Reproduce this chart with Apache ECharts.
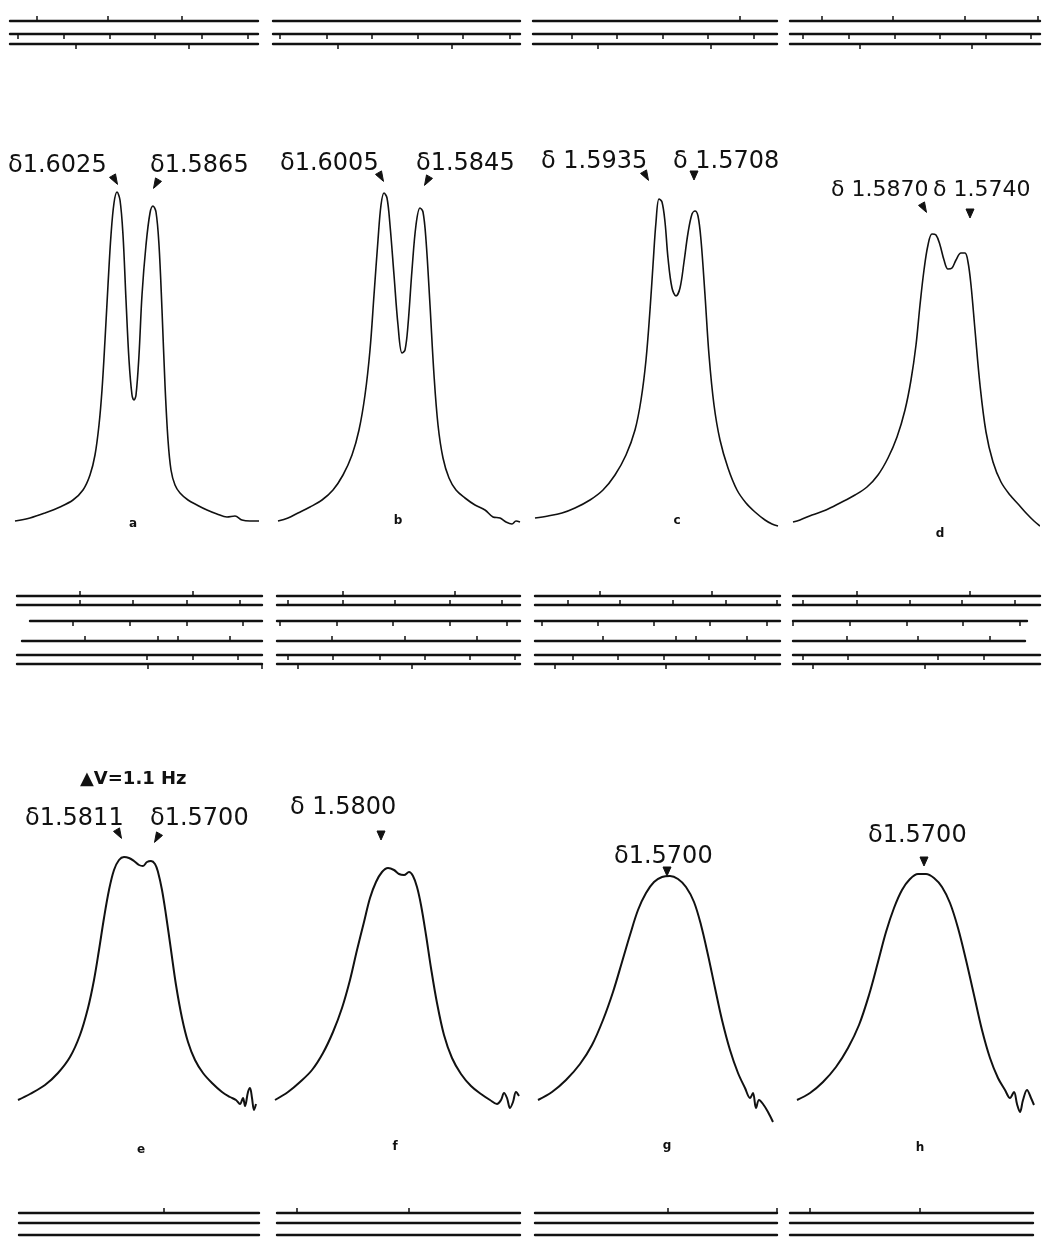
<!DOCTYPE html>
<html><head><meta charset="utf-8">
<script src="https://cdn.jsdelivr.net/npm/echarts@6/dist/echarts.min.js"></script>
<style>html,body{margin:0;padding:0;background:#fff}#c{width:1045px;height:1245px}</style>
</head><body><div id="c"></div>
<script>
// ---- spectra: [position along trace, signal height] ----
const specA = [[0,9],[15,12],[30,17],[45,23],[58,30],[68,40],[75,55],[80,75],[84,105],[87,140],[90,190],[93,245],[96,295],[99,327],[102,338],[105,330],[108,295],[111,230],[114,170],[117,135],[119,130],[121,135],[124,175],[127,235],[131,285],[135,317],[138,324],[141,318],[144,285],[147,220],[150,145],[153,90],[156,60],[160,45],[165,37],[173,30],[182,25],[192,20],[202,16],[212,13],[220,14],[227,10],[235,9],[244,9]];
const specB = [[0,9],[10,12],[20,17],[32,23],[44,30],[55,40],[65,55],[74,75],[81,100],[87,135],[92,180],[96,235],[100,290],[103,325],[106,337],[109,332],[112,305],[116,255],[120,205],[124,177],[127,180],[130,205],[134,260],[138,305],[142,322],[145,318],[148,290],[152,225],[156,155],[160,105],[165,72],[171,52],[178,40],[187,32],[197,25],[207,20],[215,13],[222,12],[228,8],[234,6],[238,9],[242,8]];
const specC = [[0,12],[13,14],[27,17],[40,22],[55,30],[68,40],[80,55],[91,75],[100,100],[106,130],[111,170],[115,220],[118,265],[121,308],[124,331],[127,328],[130,308],[133,272],[137,242],[141,234],[145,242],[149,268],[153,297],[157,316],[160,319],[163,314],[166,290],[170,235],[174,175],[179,125],[185,90],[193,62],[202,40],[211,27],[220,18],[230,10],[237,6],[243,4]];
const specD = [[0,8],[7,10],[19,15],[33,20],[47,27],[62,35],[74,43],[85,55],[95,72],[104,93],[112,120],[118,150],[123,185],[127,225],[131,260],[135,285],[139,296],[143,295],[147,285],[151,270],[155,261],[159,262],[163,270],[168,277],[172,277],[175,268],[178,245],[182,200],[187,145],[193,98],[200,68],[208,48],[217,35],[226,25],[234,16],[241,9],[247,4]];
const specE = [[0,30],[12,36],[27,45],[40,57],[52,73],[62,95],[70,122],[76,150],[81,180],[86,212],[91,240],[96,260],[101,270],[106,273],[111,272],[116,269],[121,265],[125,264],[129,268],[133,269],[137,266],[140,258],[144,240],[148,215],[153,180],[158,145],[164,112],[170,88],[177,70],[185,57],[194,47],[204,38],[212,33],[218,30],[222,26],[225,32],[227,24],[230,38],[232,42],[234,32],[236,20],[238,26]];
const specF = [[0,30],[13,38],[25,48],[37,60],[48,77],[58,98],[67,122],[75,150],[82,180],[89,208],[95,232],[101,248],[107,258],[113,262],[119,260],[124,256],[129,255],[134,258],[138,254],[142,243],[146,225],[151,195],[156,162],[162,127],[169,95],[177,72],[186,56],[196,44],[206,36],[215,30],[222,26],[226,30],[229,37],[232,32],[235,22],[238,28],[241,38],[244,34]];
const specG = [[0,30],[14,38],[28,50],[42,66],[54,85],[65,110],[75,138],[84,168],[92,195],[100,220],[108,237],[116,248],[124,253],[132,254],[140,251],[148,243],[156,228],[163,205],[170,175],[177,142],[184,110],[192,80],[200,57],[207,42],[212,32],[215,37],[218,22],[221,30],[225,26],[230,18],[235,8]];
const specH = [[2,30],[15,37],[28,48],[41,63],[53,82],[64,105],[74,135],[83,168],[91,198],[99,222],[107,240],[115,251],[123,256],[131,256],[139,252],[147,243],[155,227],[163,202],[171,170],[179,135],[187,100],[195,72],[203,52],[210,40],[215,32],[219,38],[222,26],[225,18],[228,30],[232,40],[236,32],[239,25]];

const panelLetters = ['a','b','c','d','e','f','g','h'];
const shiftLabels = [
  ['δ1.6025','δ1.5865'], ['δ1.6005','δ1.5845'], ['δ 1.5935','δ 1.5708'], ['δ 1.5870','δ 1.5740'],
  ['δ1.5811','δ1.5700'], ['δ 1.5800'], ['δ1.5700'], ['δ1.5700']
];
const noteText = '▲V=1.1 Hz';

// ---- recorder-paper scale ticks (positions along each scale line) ----
const topTicks = [
  [[27,98,172],[8,54,100,145,192,238],[66,179]],
  [[],[7,54,99,145,190,237],[65,179]],
  [[207],[39,84,130,175,221],[65,178]],
  [[32,103,175,248],[13,59,105,150,196,241],[70,182]]
];
const midTicks = [
  [[63,176],[63,116,170,223],[56,113,170,226],[68,141,161,213],[130,176,221],[131,245]],
  [[66,178],[11,66,118,173,225],[3,60,116,173,230],[55,128,200],[11,56,103,148,193,238],[21,135]],
  [[65,177],[33,85,138,191,242],[7,63,119,175,232],[68,141,161,212],[38,83,129,174,220],[20,131]],
  [[64,177],[10,64,117,169,222],[0,57,114,170,227],[54,125,197],[10,55,145,191],[20,132]]
];
const botTicks = [
  [[145],[],[]],
  [[20,132],[],[]],
  [[133,242],[],[]],
  [[20,130],[],[]]
];

// ---- layout ----
const INK = '#111';
const FONT = '"DejaVu Sans", sans-serif';
const spectra = [specA,specB,specC,specD,specE,specF,specG,specH];
const panelLeft = [15,278,535,793,18,275,538,795];
const grids = [], xAxes = [], yAxes = [], series = [];

spectra.forEach((d,i)=>{
  const top = i<4 ? 180 : 850;
  const h = i<4 ? 350 : 280;
  grids.push({left:panelLeft[i], top:top, width:245, height:h});
  xAxes.push({gridIndex:i, type:'value', min:0, max:245, show:false});
  yAxes.push({gridIndex:i, type:'value', min:0, max:h, show:false});
  series.push({type:'line', xAxisIndex:i, yAxisIndex:i, data:d, showSymbol:false, smooth:0.35,
    clip:false, lineStyle:{color:INK, width: i<4 ? 1.6 : 2}, silent:true});
});

function addScale(region, ys, cols, ticks) {
  cols.forEach((c,ci)=>{
    ys.forEach((yy,li)=>{
      const gi = grids.length;
      const w = (c.w && c.w[li]) || c.width;
      const l = (c.l && c.l[li]) != null ? c.l[li] : c.left;
      grids.push({left:l, top:yy, width:w, height:4});
      const tk = ticks[ci][li].map(v=>v-(l-c.left));
      xAxes.push({gridIndex:gi, type:'value', min:0, max:w, position:'top',
        axisLine:{show:true, onZero:false, lineStyle:{color:INK, width:2.4}},
        axisTick:{show:tk.length>0, customValues:tk, length:5, inside:region.dirs[li]==='down',
          lineStyle:{color:INK, width:1.5}},
        axisLabel:{show:false}, splitLine:{show:false}});
      yAxes.push({gridIndex:gi, type:'value', min:0, max:1, show:false});
    });
  });
}
addScale({dirs:['up','down','down']}, [21,34,44], [
  {left:10,width:248},{left:273,width:247},{left:533,width:244},{left:790,width:250}], topTicks);
addScale({dirs:['up','up','down','up','down','down']}, [596,605,621,641,655,664], [
  {left:17,width:245,l:[17,17,30,22,17,17],w:[245,245,232,240,245,245]},
  {left:277,width:243},{left:535,width:245},
  {left:793,width:247,w:[247,247,234,232,247,247]}], midTicks);
addScale({dirs:['up','up','up']}, [1213,1223,1235], [
  {left:19,width:240},{left:277,width:243},{left:535,width:242},{left:790,width:243}], botTicks);

// ---- text and arrow annotations ----
const graphic = [];
function txt(s,x,y,size,weight,align){
  graphic.push({type:'text', x:x, y:y, silent:true,
    style:{text:s, fill:INK, font:(weight||'normal')+' '+size+'px '+FONT, textAlign:align||'left', textVerticalAlign:'middle'}});
}
const arrowShapes = {
  d:  [[-4,-4],[4,-4],[0,5]],
  dr: [[0.5,-6.1],[-5.5,-2.6],[2.5,4.4]],
  dl: [[-0.5,-6.1],[5.5,-2.6],[-2.5,4.4]]
};
function arrow(x,y,dir){
  graphic.push({type:'polygon', x:x, y:y, silent:true,
    shape:{points:arrowShapes[dir]}, style:{fill:INK, stroke:INK, lineWidth:1}});
}
const labelPos = [
  [[8,166],[150,166]], [[280,164],[416,164]], [[541,162],[673,162]], [[831,190],[933,190]],
  [[25,819],[150,819]], [[290,808]], [[614,857]], [[868,836]]
];
shiftLabels.forEach((arr,i)=>arr.forEach((s,j)=>txt(s,labelPos[i][j][0],labelPos[i][j][1], i===3 ? 22 : 24)));
txt(noteText,80,779,18,'bold');
const arrows = [[115,180,'dr'],[156,184,'dl'],[381,177,'dr'],[427,181,'dl'],[646,176,'dr'],[694,175,'d'],
  [924,208,'dr'],[970,213,'d'],[119,834,'dr'],[157,838,'dl'],[381,835,'d'],[667,871,'d'],[924,861,'d']];
arrows.forEach(a=>arrow(a[0],a[1],a[2]));
const letterPos = [[133,524],[398,521],[677,521],[940,534],[141,1150],[395,1147],[667,1146],[920,1148]];
panelLetters.forEach((s,i)=>txt(s,letterPos[i][0],letterPos[i][1],12,'bold','center'));

const chart = echarts.init(document.getElementById('c'), null, {renderer:'canvas'});
chart.setOption({
  backgroundColor:'#fff', animation:false,
  grid:grids, xAxis:xAxes, yAxis:yAxes, series:series, graphic:graphic
});
</script>
</body></html>
